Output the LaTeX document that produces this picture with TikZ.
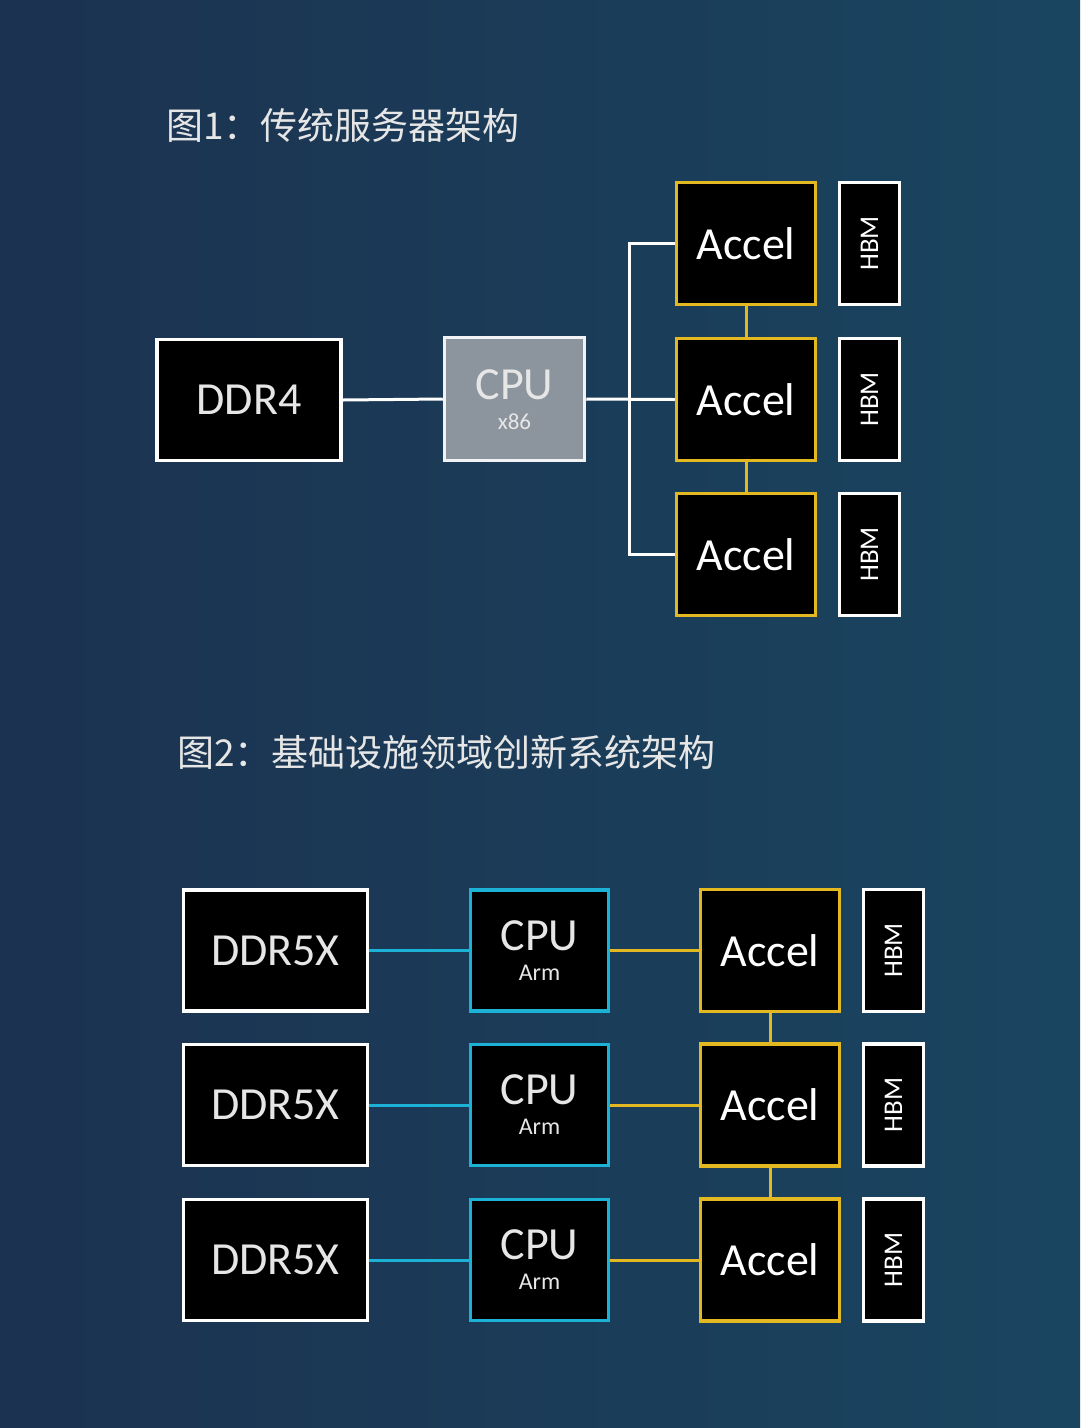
\documentclass[tikz,border=0pt]{standalone}
\usepackage{fontspec}
\setmainfont{Carlito}
\newfontfamily\cjk{Noto Sans CJK SC}
\definecolor{bgL}{HTML}{1B3250}
\definecolor{bgR}{HTML}{1A4560}
\definecolor{accY}{HTML}{E3B820}
\definecolor{cpuC}{HTML}{1CB2D6}
\definecolor{cpuG}{HTML}{8C959D}
\definecolor{txtW}{HTML}{E6E6E6}
\tikzset{
  blk/.style={draw=white, fill=black, line width=3.5pt, inner sep=0pt, text=txtW},
  memblk/.style={blk, minimum width=184pt, minimum height=121pt, font=\fontsize{46}{50}\selectfont},
  accblk/.style={blk, draw=accY, minimum width=139pt, minimum height=122pt, text=white, font=\fontsize{46}{50}\selectfont},
  hbmblk/.style={blk, minimum width=60pt, minimum height=122pt},
  hbmtxt/.style={rotate=90, text=white, font=\fontsize{27}{30}\selectfont},
  x86blk/.style={blk, fill=cpuG, draw=white!88!cpuG, minimum width=140pt, minimum height=123pt},
  armblk/.style={blk, draw=cpuC, minimum width=138pt, minimum height=121pt},
  cputxt/.style={text=txtW, inner sep=0pt, font=\fontsize{46}{50}\selectfont},
  subtxt/.style={text=txtW, inner sep=0pt, font=\fontsize{24}{28}\selectfont},
  wline/.style={draw=white, line width=3pt},
  yline/.style={draw=accY, line width=3pt},
  cline/.style={draw=cpuC, line width=3pt},
  ttl/.style={anchor=west, text=txtW, font=\cjk\fontsize{37}{40}\selectfont, inner sep=0pt}
}
\begin{document}
\begin{tikzpicture}[x=1pt,y=-1pt]
\shade[left color=bgL, right color=bgR] (0,0) rectangle (1080,1428);
\useasboundingbox (0,0) rectangle (1080,1428);

% ---------- Figure 1 ----------
\node[ttl] (t1) at (166,125) {图1：传统服务器架构};

\node[memblk] (ddr4) at (249,400) {DDR4};
\node[x86blk] (cpu0) at (514.5,399) {};
\node[cputxt] (cpu0a) at ([yshift=14pt]cpu0.center) {CPU};
\node[subtxt, font=\fontsize{23}{26}\selectfont] (cpu0b) at ([yshift=-23pt]cpu0.center) {x86};
\node[accblk] (a1) at (746,243.5) {Accel};
\node[accblk] (a2) at (746,399.5) {Accel};
\node[accblk] (a3) at (746,554.5) {Accel};
\node[hbmblk] (h1) at (869.5,243.5) {};
\node[hbmblk] (h2) at (869.5,399.5) {};
\node[hbmblk] (h3) at (869.5,554.5) {};
\node[hbmtxt] (h1t) at (h1) {HBM};
\node[hbmtxt] (h2t) at (h2) {HBM};
\node[hbmtxt] (h3t) at (h3) {HBM};

\coordinate (bt) at (629,243.5);
\coordinate (bb) at (629,554.5);
\draw[wline] (ddr4.east) -- (cpu0.west);
\draw[wline] (cpu0.east) -- (a2.west);
\draw[wline] (a1.west) -- (bt) -- (bb) -- (a3.west);
\draw[yline] (a1.south) -- (a2.north);
\draw[yline] (a2.south) -- (a3.north);

% ---------- Figure 2 ----------
\node[ttl] (t2) at (177,752) {图2：基础设施领域创新系统架构};

\foreach \i/\y in {1/950.5, 2/1105, 3/1260}{
  \node[memblk] (d\i) at (275.5,\y) {DDR5X};
  \node[armblk] (c\i) at (539.5,\y) {};
  \node[cputxt] (c\i a) at ([yshift=15pt]c\i.center) {CPU};
  \node[subtxt] (c\i b) at ([yshift=-22pt]c\i.center) {Arm};
  \node[accblk] (b\i) at (770,\y) {Accel};
  \node[hbmblk] (m\i) at (893.5,\y) {};
  \node[hbmtxt] (m\i t) at (m\i) {HBM};
  \draw[cline] (d\i.east) -- (c\i.west);
  \draw[yline] (c\i.east) -- (b\i.west);
}
\draw[yline] (b1.south) -- (b2.north);
\draw[yline] (b2.south) -- (b3.north);
\end{tikzpicture}
\end{document}
